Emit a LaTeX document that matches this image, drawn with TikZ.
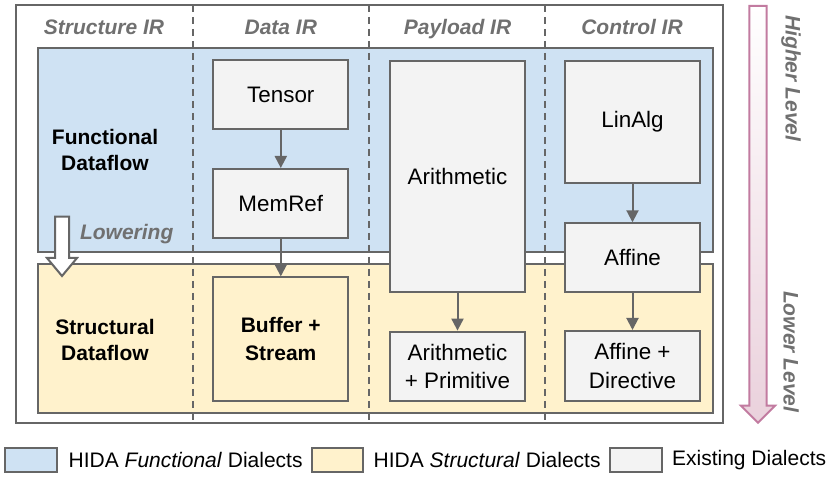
\documentclass[tikz,border=0pt]{standalone}
\usepackage{fontspec}
\setmainfont{Liberation Sans}
\usetikzlibrary{arrows.meta}
\definecolor{edgegray}{HTML}{666666}
\definecolor{labelgray}{HTML}{707070}
\definecolor{funcblue}{HTML}{CFE2F3}
\definecolor{structyellow}{HTML}{FFF2CC}
\definecolor{dialectgray}{HTML}{F3F3F3}
\definecolor{levelpink}{HTML}{C27BA0}
\definecolor{levelfill}{HTML}{EAD1DC}

\begin{document}
\begin{tikzpicture}[x=0.5pt,y=-0.5pt,
  dialect/.style={draw=edgegray,fill=dialectgray,line width=1pt,minimum width=67.5pt,
    inner sep=0pt,align=center,font=\fontsize{11.2}{14.3}\selectfont},
  flow/.style={-{Triangle[length=6pt,width=6pt]},draw=edgegray,line width=1pt},
  header/.style={anchor=base,font=\fontsize{10.5}{12}\selectfont\bfseries\itshape,text=labelgray},
  levelname/.style={font=\fontsize{10.5}{12}\selectfont\bfseries\itshape,text=labelgray,rotate=-90},
  sep/.style={draw=edgegray,line width=0.8pt,dash pattern=on 3.5pt off 2.5pt},
  swatch/.style={draw=edgegray,line width=1pt,minimum width=25.8pt,minimum height=12pt,inner sep=0pt},
  legendtext/.style={anchor=west,inner sep=0pt,font=\fontsize{10.5}{12}\selectfont}]
  \useasboundingbox (0,0) rectangle (830,480);

  % frame and the two level regions
  \draw[edgegray,line width=1pt] (16,5) rectangle (723,423);
  \draw[edgegray,line width=1pt,fill=funcblue] (37.7,47.7) rectangle (712.7,251.7);
  \draw[edgegray,line width=1pt,fill=structyellow] (37.7,264) rectangle (712.7,413.3);

  % column separators
  \draw[sep] (192.7,5) -- (192.7,423);
  \draw[sep] (369,5) -- (369,423);
  \draw[sep] (545,5) -- (545,423);

  % column headers
  \node (hstruct) at (104,35) [header] {Structure IR};
  \node (hdata) at (280.8,35) [header] {Data IR};
  \node (hpay) at (457.5,35) [header] {Payload IR};
  \node (hctrl) at (632,35) [header] {Control IR};

  % row names
  \node (func) at (105,150) [align=center,font=\fontsize{10.5}{13.3}\selectfont\bfseries] {Functional\\Dataflow};
  \node (struct) at (105,340) [align=center,font=\fontsize{10.5}{13.3}\selectfont\bfseries] {Structural\\Dataflow};

  % lowering arrow
  \draw[edgegray,line width=1pt,fill=white,line join=miter] (55,216.7) -- (69,216.7) -- (69,258)
    -- (77,258) -- (62,276) -- (47,258) -- (55,258) -- cycle;
  \node (lower) at (126.7,240) [header] {Lowering};

  % dialects
  \node (tensor) at (280.8,94.7) [dialect,minimum height=34.7pt] {Tensor};
  \node (memref) at (280.8,203.7) [dialect,minimum height=34.7pt] {MemRef};
  \node (buffer) at (280.8,339.2) [dialect,fill=structyellow,minimum height=61.8pt,
    font=\fontsize{10.5}{14}\selectfont\bfseries] {Buffer +\\Stream};
  \node (arith) at (457.5,176.5) [dialect,minimum height=115.8pt] {Arithmetic};
  \node (prim) at (457.5,366.3) [dialect,minimum height=34.7pt] {Arithmetic\\+ Primitive};
  \node (linalg) at (632.5,122) [dialect,minimum height=61.3pt] {LinAlg};
  \node (affine) at (632.5,257.8) [dialect,minimum height=34.5pt] {Affine};
  \node (direct) at (632.5,366) [dialect,minimum height=35pt] {Affine +\\Directive};

  \draw[flow] (tensor) -- (memref);
  \draw[flow] (memref) -- (buffer);
  \draw[flow] (arith) -- (prim);
  \draw[flow] (linalg) -- (affine);
  \draw[flow] (affine) -- (direct);

  % level arrow
  \draw[levelpink,line width=1pt,top color=white,bottom color=levelfill,line join=miter]
    (749.3,6) -- (766.7,6) -- (766.7,405.7) -- (775,405.7) -- (758,422.7)
    -- (741,405.7) -- (749.3,405.7) -- cycle;
  \node (high) at (791,78.3) [levelname] {Higher Level};
  \node (low) at (791,351.7) [levelname] {Lower Level};

  % legend
  \node (kfunc) at (30.8,460.3) [swatch,fill=funcblue] {};
  \node (tfunc) at (68.3,460.3) [legendtext] {HIDA \textit{Functional} Dialects};
  \node (kstruct) at (337.5,460.3) [swatch,fill=structyellow] {};
  \node (tstruct) at (373.3,460.3) [legendtext] {HIDA \textit{Structural} Dialects};
  \node (kexist) at (635.8,460.3) [swatch,fill=dialectgray] {};
  \node (texist) at (671.7,460.3) [legendtext] {Existing Dialects};
\end{tikzpicture}
\end{document}
